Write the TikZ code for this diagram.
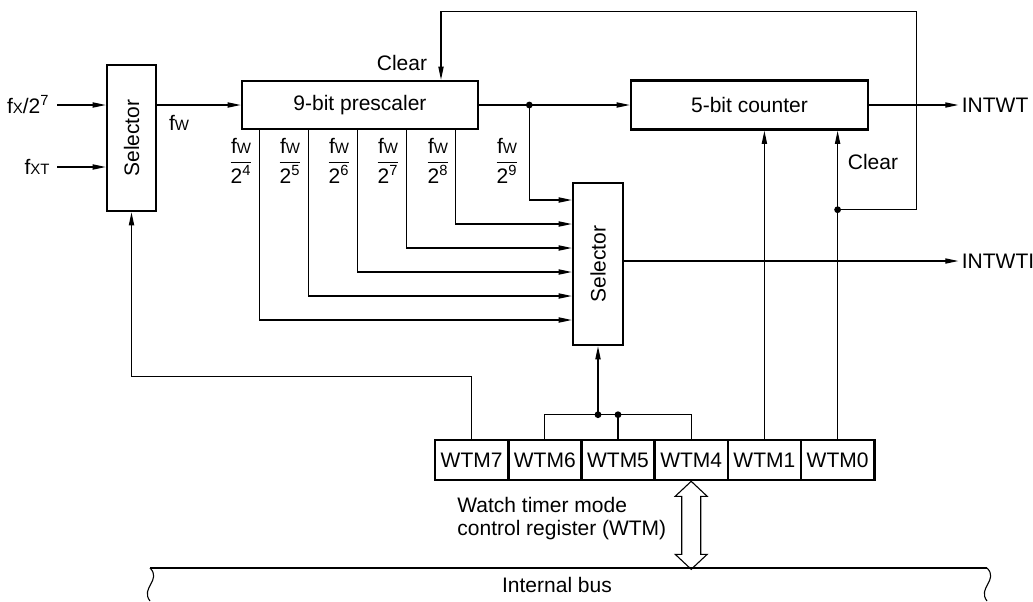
\documentclass[tikz,border=0pt]{standalone}
\usepackage{fontspec}
\setmainfont{Liberation Sans}
\usetikzlibrary{arrows.meta,calc}
\newcommand{\sbs}[1]{{\fontsize{7.5}{8}\selectfont #1}}
\newcommand{\fwfr}[1]{$\displaystyle\frac{\hbox{f\sbs{W}}}{\hbox{2\textsuperscript{#1}}}$}
\begin{document}
\begin{tikzpicture}[x=0.5pt,y=-0.5pt,
  font=\fontsize{10.5}{12}\selectfont,
  box/.style={draw, line width=1.3pt, inner sep=0pt},
  conn/.style={line width=0.55pt},
  arr/.style={conn, -{Triangle[length=6.5pt,width=2.6pt]}},
  dot/.style={circle, fill, inner sep=0pt, minimum size=3.4pt},
  lbl/.style={inner sep=0pt}]
\useasboundingbox (0,0) rectangle (1033,601);

% blocks
\node[box, minimum width=24.5pt, minimum height=73pt] (sel1) at (131.5,138) {\rotatebox{90}{Selector}};
\node[box, minimum width=118pt, minimum height=24pt] (pre) at (360,105) {9-bit prescaler};
\node[box, minimum width=118.5pt, minimum height=24.5pt] (cnt) at (749.5,105) {5-bit counter};
\node[box, minimum width=25pt, minimum height=81pt] (sel2) at (598,264) {\rotatebox{90}{Selector}};
\foreach \n [count=\i from 0] in {7,6,5,4,1,0}
  \node[box, minimum width=36.6pt, minimum height=20pt] (w\n) at ({471.6+73.2*\i},460) {WTM\n};

% inputs
\node[lbl, anchor=east] (fx) at (50,105) {f\sbs{X}/2\textsuperscript{7}};
\node[lbl, anchor=east] (fxt) at (50,167) {f\sbs{XT}};
\draw[arr] ([xshift=3.5pt]fx.east) -- (fx.east -| sel1.west);
\draw[arr] ([xshift=3.5pt]fxt.east) -- (fxt.east -| sel1.west);
\draw[arr] (pre.west -| sel1.east) -- (pre.west);
\node[lbl] (fwl) at (179,123) {f\sbs{W}};

% prescaler to counter and selector
\coordinate (d1) at ($(pre.east)+(50,0)$);
\draw[arr] (pre.east) -- (cnt.west);
\node[dot] at (d1) {};
\draw[arr] (d1) |- ($(sel2.west)+(0,-64)$);
\foreach \j in {0,...,4}
  \draw[arr] (pre.south west) ++({215-49*\j},0) |- ($(sel2.west)+(0,{-40+24*\j})$);

% fractions
\foreach \xx/\e [count=\k] in {241/4,290/5,339/6,388/7,438/8,507/9}
  \node[lbl] (fr\k) at (\xx,161) {\fwfr{\e}};

% clear feedback
\path (w0.north) ++(0,-229) coordinate (d2);
\coordinate (clr) at ($(pre.north)+(81,0)$);
\draw[arr] (w0.north) -- (w0.north |- cnt.south);
\node[dot] at (d2) {};
\draw[arr] (d2) -- ++(79,0) -- ++(0,-198) -| (clr);
\node[lbl] (clear1) at (402,63) {Clear};
\node[lbl] (clear2) at (873,162) {Clear};
\draw[arr] (w1.north) -- (w1.north |- cnt.south);

% outputs
\draw[arr] (cnt.east) -- ++(89,0) node[right, inner sep=1.5pt] (intwt) {INTWT};
\draw[arr] ($(sel2.east)+(0,-3)$) -- ++(334,0) node[right, inner sep=1.5pt] (intwti) {INTWTI};

% WTM7 to selector 1
\draw[arr] (w7.north) -- ++(0,-62) -| (sel1.south);

% WTM6/5/4 to selector 2
\path (w5.north) ++(0,-24) coordinate (d3);
\draw[conn] (w6.north) -- ++(0,-24) -| (w4.north);
\draw[conn] (w5.north) -- (d3);
\node[dot] at (d3) {};
\node[dot] at (sel2.south |- d3) {};
\draw[arr] (sel2.south |- d3) -- (sel2.south);

% register label
\node[lbl, anchor=west] (lab1) at (457,505) {Watch timer mode};
\node[lbl, anchor=west] (lab2) at (457,530) {control register (WTM)};

% double arrow
\draw[conn, fill=white] (w4.south) -- ++(16,15) -- ++(-6.5,0) -- ++(0,58) -- ++(6.5,0)
  -- ++(-16,15) -- ++(-16,-15) -- ++(6.5,0) -- ++(0,-58) -- ++(-6.5,0) -- cycle;

% internal bus
\draw[conn] (150,568) -- (987,568);
\draw[conn] (150,568) .. controls (162,580) and (140,588) .. (150,601);
\draw[conn] (987,568) .. controls (999,580) and (977,588) .. (987,601);
\node[lbl] (bus) at (557,585) {Internal bus};
\end{tikzpicture}
\end{document}
